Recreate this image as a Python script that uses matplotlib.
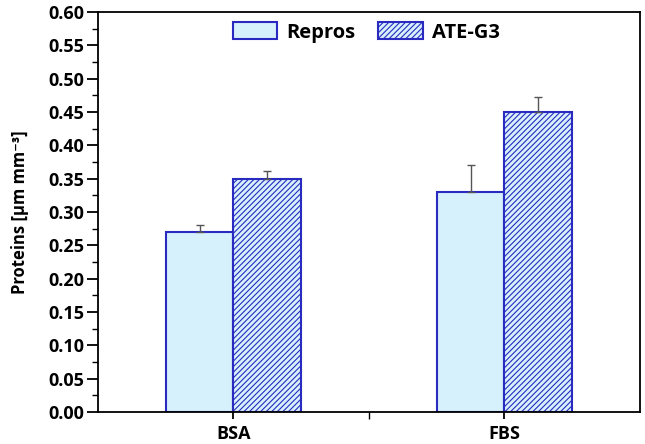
import matplotlib.pyplot as plt
import numpy as np

plt.rcParams['font.family'] = ['Open Sans', 'DejaVu Sans']
plt.rcParams['font.weight'] = 'bold'
plt.rcParams['hatch.color'] = '#2a2ac0'
plt.rcParams['hatch.linewidth'] = 0.8

groups = ['BSA', 'FBS']
repros = [0.27, 0.33]
repros_err = [0.011, 0.04]
ate_g3 = [0.35, 0.45]
ate_g3_err = [0.012, 0.023]

fill = '#d6f1fc'
edge = '#2a2ac0'
width = 0.25

fig, ax = plt.subplots(figsize=(6.45, 4.44), dpi=100)
fig.subplots_adjust(left=0.152, right=0.992, top=0.973, bottom=0.072)

x = np.arange(1, len(groups) + 1)
err_kw = dict(ecolor='#555555', elinewidth=1.0, capsize=3, capthick=1.0)
ax.bar(x - width / 2, repros, width, yerr=[np.zeros(2), repros_err],
       color=fill, edgecolor=edge, linewidth=1.5, label='Repros', error_kw=err_kw)
ax.bar(x + width / 2, ate_g3, width, yerr=[np.zeros(2), ate_g3_err],
       color=fill, edgecolor=edge, linewidth=1.5, hatch='//////', label='ATE-G3',
       error_kw=err_kw)

ax.set_xlim(0.5, 2.5)
ax.set_ylim(0, 0.6)
ax.set_xticks(x)
ax.set_xticklabels(groups)
ax.set_xticks([1.5], minor=True)
ax.set_yticks(np.arange(0, 0.601, 0.05))
ax.set_yticks(np.arange(0.025, 0.6, 0.05), minor=True)
ax.yaxis.set_major_formatter(plt.FormatStrFormatter('%.2f'))
ax.tick_params(axis='both', which='major', direction='out', width=1.3, labelsize=13)
ax.tick_params(axis='y', which='major', length=8, pad=2)
ax.tick_params(axis='x', which='major', length=5, pad=4)
ax.tick_params(axis='y', which='minor', direction='out', length=4, width=1.0)
ax.tick_params(axis='x', which='minor', direction='out', length=5, width=1.0)
for s in ax.spines.values():
    s.set_linewidth(1.3)

ax.set_ylabel('Proteins [µm mm⁻³]', fontsize=12, fontweight='bold', labelpad=14)
ax.legend(loc='upper center', ncol=2, frameon=False, fontsize=14.5,
          handlelength=2.2, handleheight=0.95, columnspacing=1.15, handletextpad=0.45,
          bbox_to_anchor=(0.495, 1.02))

fig.savefig('out.png', dpi=100)
